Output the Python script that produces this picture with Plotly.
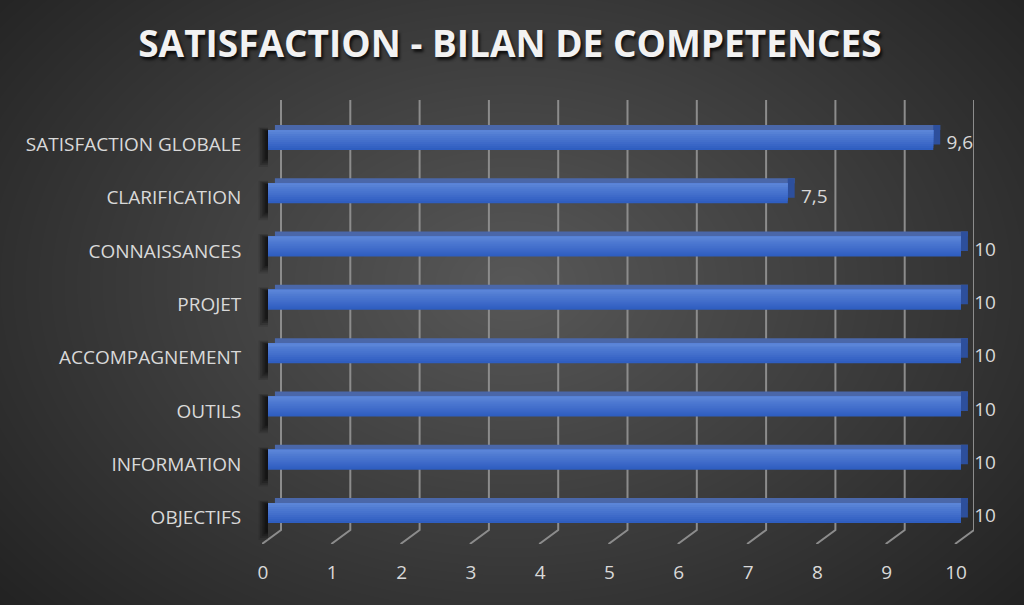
import base64
import struct
import zlib

import numpy as np
import plotly.graph_objs as go

# bottom -> top, as drawn on the category axis
categories = ["OBJECTIFS", "INFORMATION", "OUTILS", "ACCOMPAGNEMENT",
              "PROJET", "CONNAISSANCES", "CLARIFICATION", "SATISFACTION GLOBALE"]
scores = [10, 10, 10, 10, 10, 10, 7.5, 9.6]
x_ticks = [0, 1, 2, 3, 4, 5, 6, 7, 8, 9, 10]

W, H = 1024, 605
PX = 69.3          # pixels per unit on the value axis
DEPTH = 19 / PX    # 3d depth of the floor, in value units
X2_MIN, X2_MAX = -0.14, 10.6   # room for the shadow and the value labels
LABEL_FONT = dict(family="Open Sans", size=19, color="#d9d9d9")

# front face gradient, bottom band first
FRONT_COLORS = ["#2f5ec0", "#3462c3", "#3966c6", "#3e6ac9", "#436fcb",
                "#4773ce", "#4b77d0", "#507bd2", "#5681d5", "#5b85d8"]


def background_png(w, h):
    # radial grey gradient, lighter in the middle like the Excel chart area
    yy, xx = np.mgrid[0:h, 0:w]
    d = np.sqrt(((xx - w * 0.5) / (w * 0.5)) ** 2 + ((yy - h * 0.47) / (h * 0.6)) ** 2)
    v = np.clip(88 - 40 * d, 28, 90).astype(np.uint8)
    raw = b"".join(b"\x00" + row.tobytes() for row in v)

    def chunk(tag, data):
        return (struct.pack(">I", len(data)) + tag + data
                + struct.pack(">I", zlib.crc32(tag + data) & 0xffffffff))

    png = (b"\x89PNG\r\n\x1a\n"
           + chunk(b"IHDR", struct.pack(">IIBBBBB", w, h, 8, 0, 0, 0, 0))
           + chunk(b"IDAT", zlib.compress(raw, 9))
           + chunk(b"IEND", b""))
    return "data:image/png;base64," + base64.b64encode(png).decode()


fig = go.Figure()

# back wall + floor gridlines (subplot x/y, drawn under the bars)
gx, gy = [], []
for v in x_ticks:
    gx += [v, v, v - DEPTH, None]
    gy += [1, 0.0315, 0, None]
fig.add_trace(go.Scatter(x=gx, y=gy, mode="lines", hoverinfo="skip",
                         line=dict(color="#8c8c8c", width=2),
                         xaxis="x", yaxis="y", showlegend=False))

bar_kw = dict(y=categories, orientation="h", xaxis="x2", yaxis="y2",
              showlegend=False, hoverinfo="skip", marker_line_width=0)
n = len(categories)

# soft shadow at the left of each bar
for k, (dx, alpha) in enumerate([(0.14, 0.10), (0.115, 0.14), (0.09, 0.18),
                                 (0.065, 0.22), (0.04, 0.26)]):
    fig.add_trace(go.Bar(x=[dx] * n, base=[-dx] * n, offset=-0.42 + 0.035 * k,
                         width=0.74 - 0.05 * k,
                         marker_color=f"rgba(0,0,0,{alpha})", **bar_kw))

# top face and right-hand face
fig.add_trace(go.Bar(x=scores, base=[0.1] * n, offset=0.272, width=0.094,
                     marker_color="#4a67a9", **bar_kw))
fig.add_trace(go.Bar(x=[0.1] * n, base=scores, offset=0.0, width=0.366,
                     marker_color="#2d4f9c", **bar_kw))

# front face: overlapping bands that all reach the top edge, giving a
# vertical gradient without seams
FACE_BOTTOM, FACE_HEIGHT = -0.103, 0.375
step = FACE_HEIGHT / len(FRONT_COLORS)
for k, col in enumerate(FRONT_COLORS):
    fig.add_trace(go.Bar(x=scores, offset=FACE_BOTTOM + k * step,
                         width=FACE_HEIGHT - k * step,
                         marker_color=col, **bar_kw))

# value labels
fig.add_trace(go.Scatter(x=[v + 0.19 for v in scores], y=categories, mode="text",
                         text=[f"{v:g}".replace(".", ",") for v in scores],
                         textposition="middle right", textfont=LABEL_FONT,
                         xaxis="x2", yaxis="y2", showlegend=False,
                         hoverinfo="skip", cliponaxis=False))

fig.update_layout(
    width=W, height=H,
    margin=dict(l=0, r=0, t=0, b=0),
    paper_bgcolor="#3a3a3a",
    plot_bgcolor="rgba(0,0,0,0)",
    barmode="overlay",
    separators=", ",
    title=dict(text="<b>SATISFACTION - BILAN DE COMPETENCES</b>",
               x=0.498, xanchor="center", y=0.927, yanchor="middle",
               font=dict(family="Open Sans", size=37, color="#f2f2f2",
                         shadow="2px 3px 3px rgba(0,0,0,0.75)")),
    xaxis=dict(domain=[(281 - DEPTH * PX) / W, (281 + 10 * PX) / W],
               range=[-DEPTH, 10], visible=False, fixedrange=True),
    yaxis=dict(domain=[(H - 544) / H, (H - 100) / H], range=[0, 1],
               visible=False, fixedrange=True),
    xaxis2=dict(domain=[(268 + X2_MIN * PX) / W, (268 + X2_MAX * PX) / W],
                range=[X2_MIN, X2_MAX],
                anchor="y2", showgrid=False, zeroline=False, showline=False,
                tickvals=x_ticks, ticks="", tickfont=LABEL_FONT,
                ticklabelshift=-5, ticklabelstandoff=15),
    yaxis2=dict(domain=[(H - 544) / H, (H - 100) / H], range=[-0.497, 7.835],
                anchor="x2", type="category", categoryorder="array",
                categoryarray=categories, showgrid=False, zeroline=False,
                showline=False, ticks="", tickfont=LABEL_FONT,
                ticklabelstandoff=16),
    images=[dict(source=background_png(W, H), xref="paper", yref="paper",
                 x=0, y=1, sizex=1, sizey=1, sizing="stretch",
                 xanchor="left", yanchor="top", layer="below")],
)

fig.write_html("out.html", config={"displayModeBar": False},
               post_script="document.body.style.margin='0';"
                           "document.body.style.overflow='hidden';")
